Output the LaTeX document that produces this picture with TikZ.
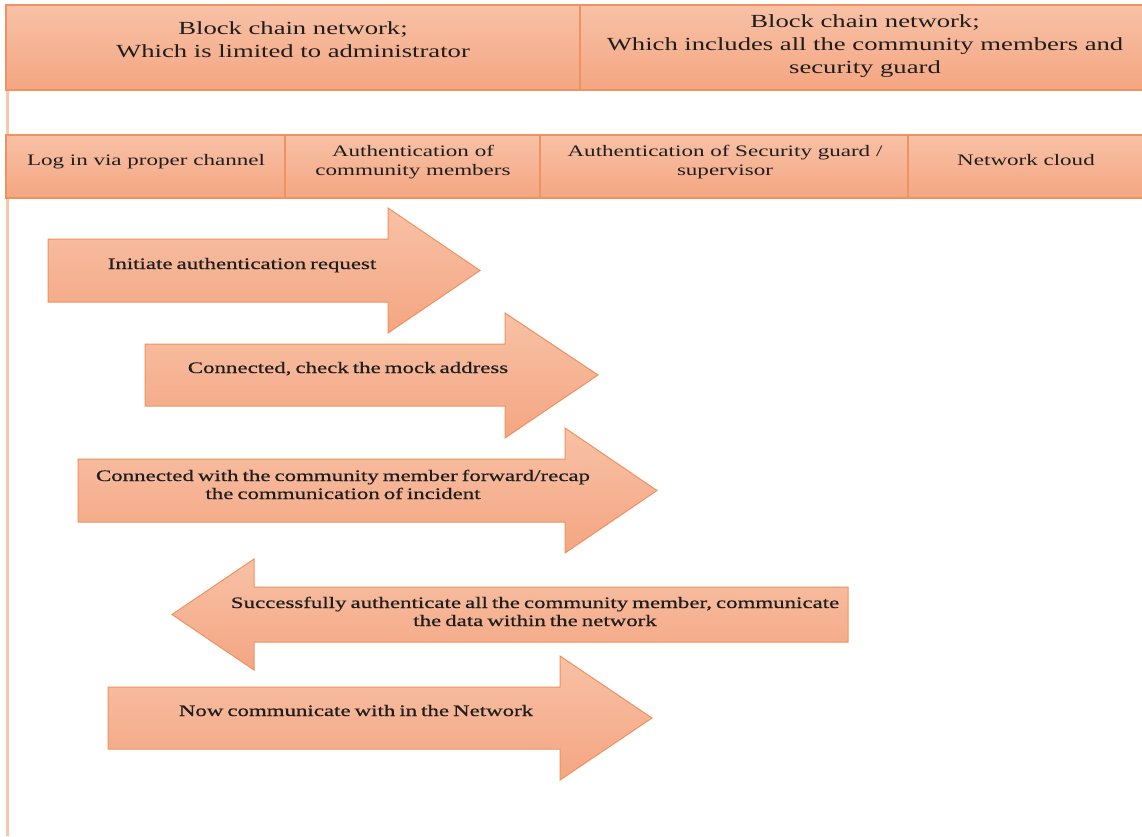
\documentclass[tikz,border=0pt]{standalone}
\usepackage{fontspec}
\setmainfont{Liberation Serif}[FakeStretch=1.44]
\newfontfamily\flowfont{Liberation Serif}[FakeStretch=1.43,FakeBold=0.6,WordSpace=0.7]
\definecolor{boxtop}{RGB}{248,193,166}
\definecolor{boxbot}{RGB}{244,166,130}
\definecolor{boxline}{RGB}{239,146,95}
\definecolor{rail}{RGB}{248,198,170}
\definecolor{ink}{RGB}{30,30,30}

\begin{document}
\begin{tikzpicture}[x=1pt,y=-1pt,
  panel/.style={top color=boxtop,bottom color=boxbot,draw=boxline,line width=1.2pt},
  flow/.style={top color=boxtop,bottom color=boxbot,draw=boxline,line width=1pt,line join=miter},
  headtxt/.style={font=\fontsize{18.5}{23}\selectfont,text=ink,align=center,inner sep=0pt,anchor=base},
  coltxt/.style={font=\fontsize{16}{19}\selectfont,text=ink,align=center,inner sep=0pt,anchor=base},
  flowtxt/.style={font=\flowfont\fontsize{16}{18}\selectfont,text=ink,align=center,inner sep=0pt,anchor=base},
]
\useasboundingbox (0,0) rectangle (1142,836);
\fill[white] (0,0) rectangle (1142,836);

% left rail
\draw[rail,line width=3pt] (7,4) -- (7,836);

% network header row (multi-line labels are placed by their last baseline)
\path[panel] (6,5) rectangle (580,90);
\path[panel] (580,5) rectangle (1150,90);
\node[headtxt] (admin) at (293,57.5) {Block chain network;\\Which is limited to administrator};
\node[headtxt] (community) at (865,73.3) {Block chain network;\\Which includes all the community members and\\security guard};

% participant row
\path[panel] (6,135) rectangle (285,198);
\path[panel] (285,135) rectangle (540,198);
\path[panel] (540,135) rectangle (908,198);
\path[panel] (908,135) rectangle (1150,198);
\node[coltxt] (login) at (146,165.7) {Log in via proper channel};
\node[coltxt] (members) at (413,175.5) {Authentication of\\community members};
\node[coltxt] (guard) at (725,175.3) {Authentication of Security guard /\\supervisor};
\node[coltxt] (cloud) at (1026,165.7) {Network cloud};

% message arrows
\path[flow] (48,239) -- (388,239) -- (388,208) -- (480,270.5) -- (388,333) -- (388,302) -- (48,302) -- cycle;
\path[flow] (145,344) -- (505,344) -- (505,313) -- (598,375) -- (505,438) -- (505,406) -- (145,406) -- cycle;
\path[flow] (78,459) -- (565,459) -- (565,428) -- (657,490.5) -- (565,553) -- (565,522) -- (78,522) -- cycle;
\path[flow] (848,587) -- (254,587) -- (254,559) -- (172,614.5) -- (254,670) -- (254,642) -- (848,642) -- cycle;
\path[flow] (108,687) -- (560,687) -- (560,656) -- (652,718) -- (560,780) -- (560,749) -- (108,749) -- cycle;

\node[flowtxt] (request) at (242,269) {Initiate authentication request};
\node[flowtxt] (mock) at (348,373) {Connected, check the mock address};
\node[flowtxt] (forward) at (343,499) {Connected with the community member forward/recap\\the communication of incident};
\node[flowtxt] (success) at (535,626) {Successfully authenticate all the community member, communicate\\the data within the network};
\node[flowtxt] (now) at (356,716) {Now communicate with in the Network};
\end{tikzpicture}
\end{document}
